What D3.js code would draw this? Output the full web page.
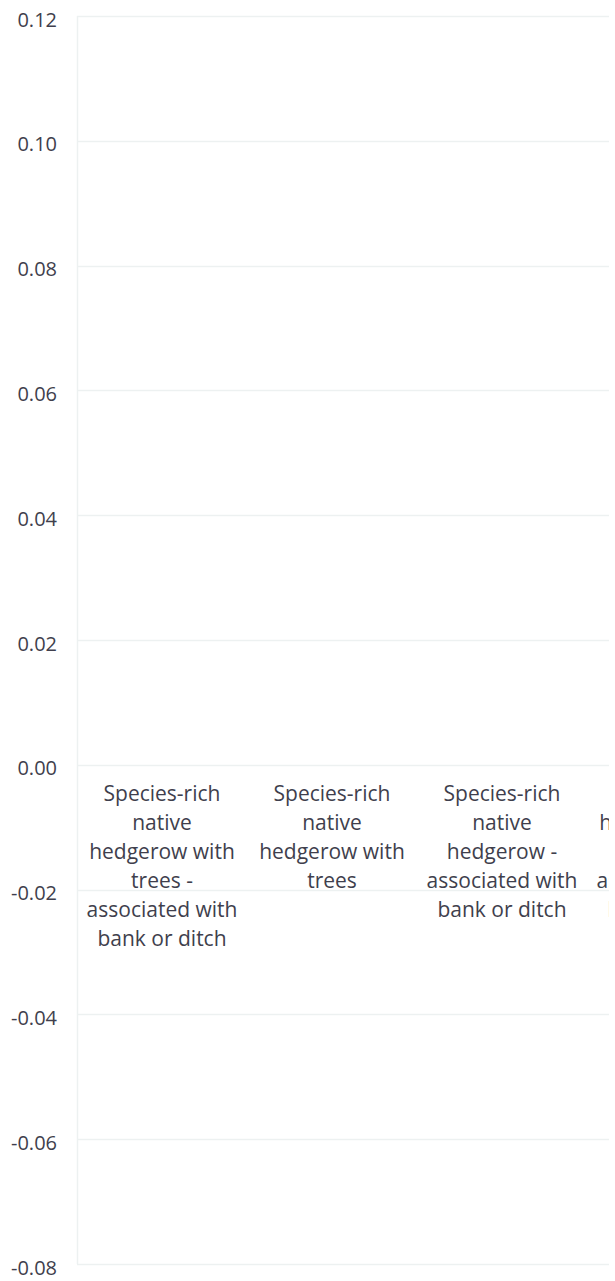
<!DOCTYPE html>
<html>
<head>
<meta charset="utf-8">
<script src="https://cdn.jsdelivr.net/npm/d3@7"></script>
<style>
  html, body { margin: 0; padding: 0; background: #fff; }
  svg { display: block; overflow: hidden; }
  text { font-family: "Open Sans", sans-serif; fill: #3f3f4d; }
</style>
</head>
<body>
<div id="chart"></div>
<script>
// category labels, one entry per line as drawn
var categories = [
  ["Species-rich", "native", "hedgerow with", "trees -", "associated with", "bank or ditch"],
  ["Species-rich", "native", "hedgerow with", "trees"],
  ["Species-rich", "native", "hedgerow -", "associated with", "bank or ditch"],
  ["Native", "hedgerow with", "trees -", "associated with", "bank or ditch"]
];
var values = [0, 0, 0, 0];
var yTicks = [-0.08, -0.06, -0.04, -0.02, 0, 0.02, 0.04, 0.06, 0.08, 0.10, 0.12];

(() => {
  let width = 609, height = 1281;
  let mLeft = 77, mTop = 16, mBottom = 1264;
  let step = 170;

  let svg = d3.select("#chart").append("svg")
      .attr("width", width)
      .attr("height", height);

  let y = d3.scaleLinear()
      .domain([-0.08, 0.12])
      .range([mBottom, mTop]);

  let x = d3.scaleBand()
      .domain(d3.range(categories.length))
      .range([mLeft, mLeft + step * categories.length])
      .paddingInner(0.2)
      .paddingOuter(0.1);

  let fmt = (d) => d3.format(".2f")(d).replace("\u2212", "-");

  // gridlines
  svg.append("g")
      .selectAll("line")
      .data(yTicks)
      .enter().append("line")
      .attr("x1", mLeft)
      .attr("x2", mLeft + step * categories.length)
      .attr("y1", (d) => Math.round(y(d)) + 0.5)
      .attr("y2", (d) => Math.round(y(d)) + 0.5)
      .attr("stroke", "#edf1f1")
      .attr("stroke-width", 1.5);

  // left axis line
  svg.append("line")
      .attr("x1", mLeft + 0.5).attr("x2", mLeft + 0.5)
      .attr("y1", mTop).attr("y2", mBottom)
      .attr("stroke", "#edf1f1")
      .attr("stroke-width", 1.5);

  // y tick labels
  let yAxis = d3.axisLeft(y)
      .tickValues(yTicks)
      .tickSize(0)
      .tickPadding(20)
      .tickFormat(fmt);

  let ya = svg.append("g")
      .attr("transform", `translate(${ mLeft }, 0)`)
      .call(yAxis);
  ya.select(".domain").remove();
  ya.selectAll("text")
      .attr("font-size", "20px")
      .attr("font-family", "'Open Sans', sans-serif")
      .attr("fill", "#3f3f4d")
      .attr("dy", "0.5em");

  // bars (all zero)
  svg.append("g")
      .selectAll("rect")
      .data(values)
      .enter().append("rect")
      .attr("x", (d, i) => x(i))
      .attr("width", x.bandwidth())
      .attr("y", (d) => y(Math.max(0, d)))
      .attr("height", (d) => Math.abs(y(d) - y(0)))
      .attr("fill", "#4e79a7");

  // category labels below zero line
  let labels = svg.append("g")
      .selectAll("text")
      .data(categories)
      .enter().append("text")
      .attr("text-anchor", "middle")
      .attr("font-size", "21px")
      .attr("x", (d, i) => x(i) + x.bandwidth() / 2)
      .attr("y", y(0) + 36);

  labels.selectAll("tspan")
      .data((d, i) => d.map((t) => ({ t: t, i: i })))
      .enter().append("tspan")
      .attr("x", (d) => x(d.i) + x.bandwidth() / 2)
      .attr("dy", (d, j) => j === 0 ? 0 : 29)
      .text((d) => d.t);
})();
</script>
</body>
</html>
